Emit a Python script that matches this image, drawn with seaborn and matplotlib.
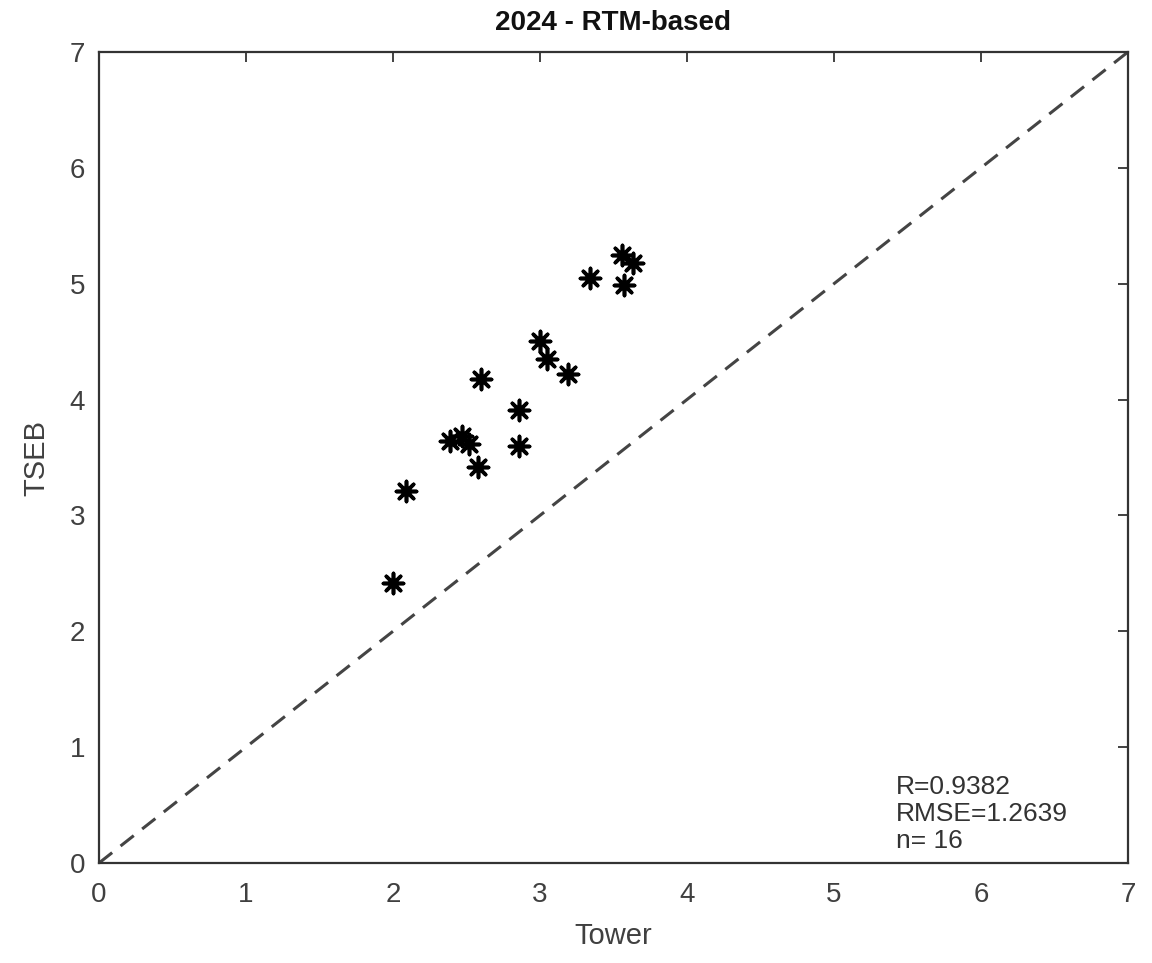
import matplotlib
matplotlib.use("Agg")
import matplotlib.pyplot as plt
import seaborn as sns
import pandas as pd

tower = [2.00, 2.09, 2.39, 2.47, 2.52, 2.58, 2.60, 2.86, 2.86, 3.00, 3.05, 3.19, 3.34, 3.56, 3.63, 3.57]
tseb = [2.42, 3.21, 3.64, 3.69, 3.62, 3.42, 4.18, 3.91, 3.60, 4.51, 4.35, 4.22, 5.05, 5.25, 5.18, 4.99]
ticks = [0, 1, 2, 3, 4, 5, 6, 7]
title = "2024 - RTM-based"
stats_text = "R=0.9382\nRMSE=1.2639\nn= 16"

sns.set_style("white")
plt.rcParams['font.family'] = ['Liberation Sans', 'DejaVu Sans']

df = pd.DataFrame({"Tower": tower, "TSEB": tseb})

fig = plt.figure(figsize=(11.52, 9.63), dpi=100)
ax = fig.add_axes([0.0859, 0.1038, 0.8932, 0.8422])

ax.plot([0, 7], [0, 7], linestyle=(0, (5.5, 3.5)), color="#444444", linewidth=2.2, zorder=1)
sns.scatterplot(data=df, x="Tower", y="TSEB", ax=ax, marker=(8, 2, 0), s=210,
                color="black", edgecolor="black", linewidth=2.6, zorder=3)

ax.set_xlim(0, 7)
ax.set_ylim(0, 7)
ax.set_xticks(ticks)
ax.set_yticks(ticks)
ax.tick_params(direction="in", top=True, right=True, length=7, width=1.3,
               colors="#333333", labelsize=20, labelcolor="#404040", pad=10)
ax.tick_params(axis="x", pad=14)
for s in ax.spines.values():
    s.set_color("#333333")
    s.set_linewidth(1.6)

ax.set_xlabel("Tower", fontsize=21, color="#404040", labelpad=10)
ax.set_ylabel("TSEB", fontsize=21, color="#404040", labelpad=14)
ax.set_title(title, fontsize=20, fontweight="bold", color="#111111", pad=16)

ax.text(5.42, 0.09, stats_text, fontsize=19, color="#333333", ha="left", va="bottom",
        linespacing=1.15)

fig.savefig("out.png", dpi=100)
